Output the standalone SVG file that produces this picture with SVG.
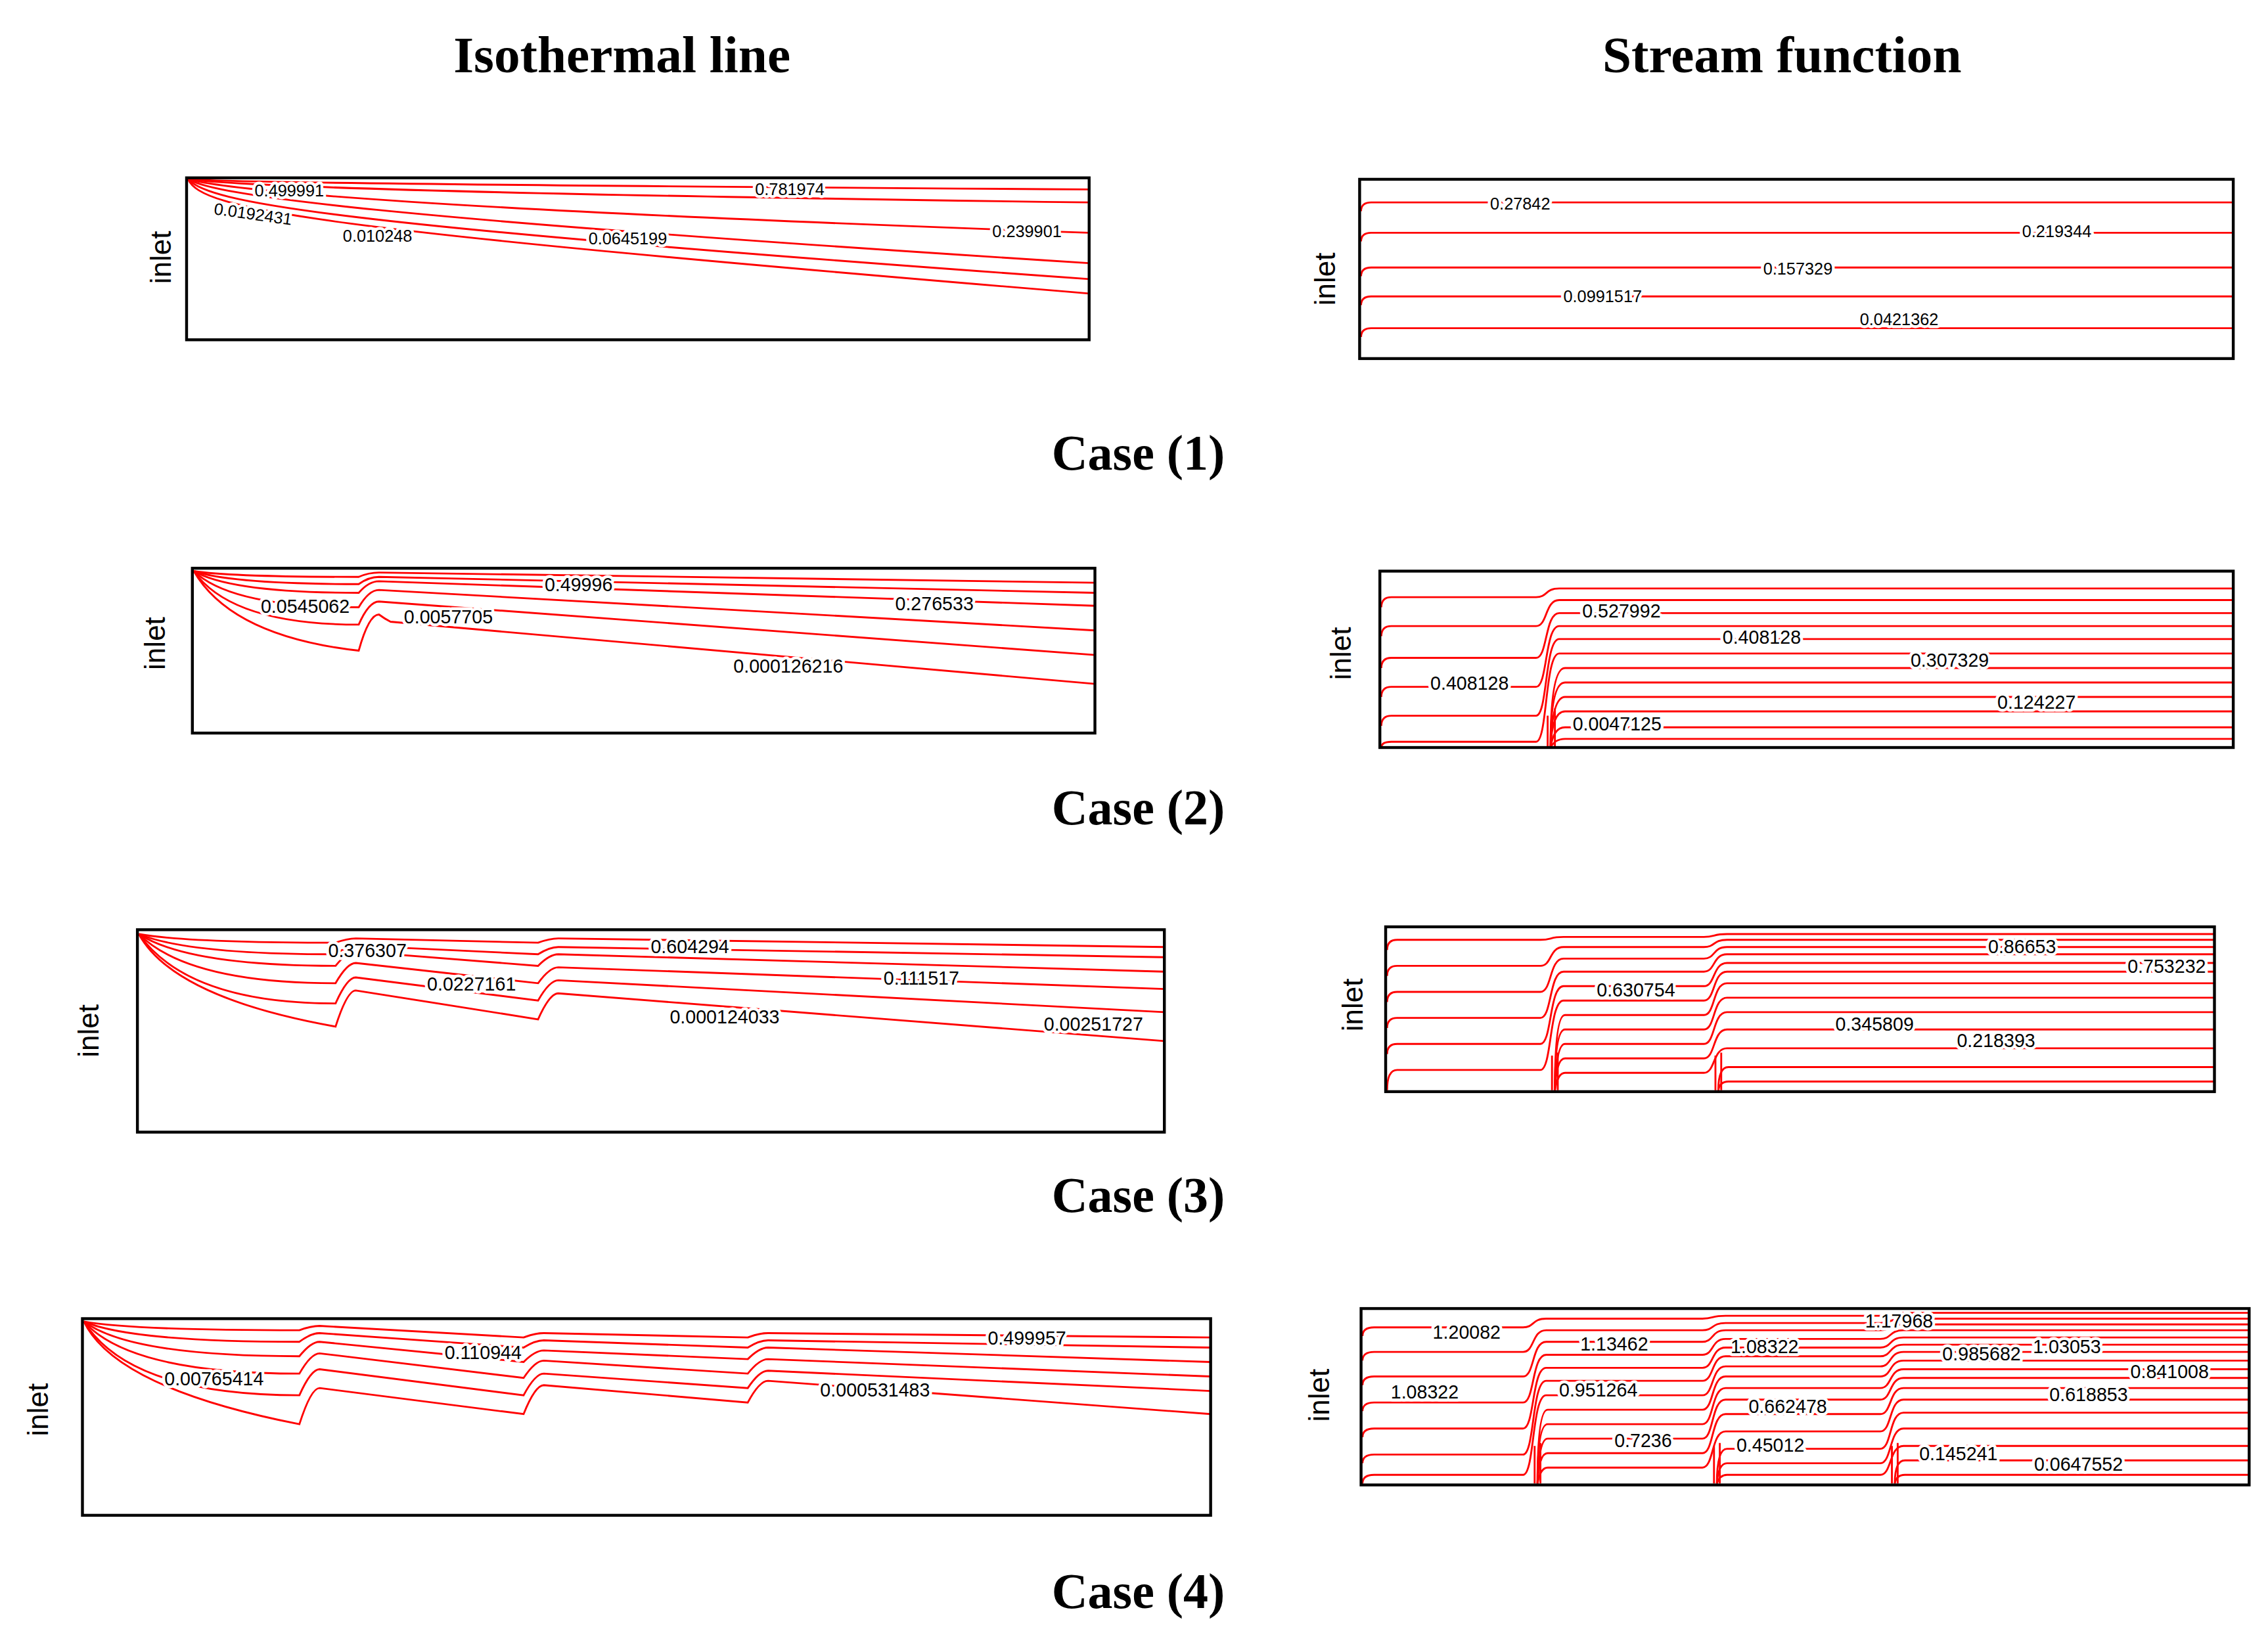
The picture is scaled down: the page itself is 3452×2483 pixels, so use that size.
<svg xmlns="http://www.w3.org/2000/svg" width="3452" height="2483" viewBox="0 0 3452 2483">
<style>
.t{font-family:"Liberation Serif",serif;font-weight:bold;font-size:36px;text-anchor:middle;fill:#000}
.cs{font-size:34.5px}
.in{font-family:"Liberation Sans",Arial,sans-serif;font-size:20px;text-anchor:middle;fill:#000}
.fr{fill:none;stroke:#000;stroke-width:2}
.c path{fill:none;stroke:#f00;stroke-width:1.3}
.lb{font-family:"Liberation Sans",Arial,sans-serif;font-size:13px;text-anchor:middle;fill:#000;stroke:#fff;stroke-width:4;paint-order:stroke;stroke-linejoin:round}
.s{font-size:11.5px}
</style>
<rect width="3452" height="2483" fill="#fff"/>
<g transform="scale(2.2015,2.2012)">
<text class="t" x="430" y="50">Isothermal line</text>
<text class="t" x="1232" y="50">Stream function</text>
<text class="t cs" x="787" y="325">Case (1)</text>
<text class="t cs" x="787" y="570">Case (2)</text>
<text class="t cs" x="787" y="838">Case (3)</text>
<text class="t cs" x="787" y="1112">Case (4)</text>

<g id="p1l">
<g class="c">
<path d="M130,124 C150,126 300,128 753,131"/>
<path d="M130,124 C160,128 300,134 753,140"/>
<path d="M130,124 C160,132 300,145 753,161"/>
<path d="M130,124 C150,135 250,150 753,182"/>
<path d="M130,124 C145,140 220,155 753,193"/>
<path d="M130,124 C140,145 210,158 753,203"/>
</g>
<rect class="fr" x="129" y="123" width="624" height="112"/>
<text class="in" transform="translate(118,178) rotate(-90)">inlet</text>
<text class="lb s" x="200" y="136">0.499991</text>
<text class="lb s" x="175" y="152" transform="rotate(8,175,148)">0.0192431</text>
<text class="lb s" x="261" y="167">0.010248</text>
<text class="lb s" x="434" y="169">0.0645199</text>
<text class="lb s" x="546" y="135">0.781974</text>
<text class="lb s" x="710" y="164">0.239901</text>
</g>

<g id="p1r">
<g class="c">
<path d="M941,146 Q941,140 948,140 H1544"/>
<path d="M941,167 Q941,161 948,161 H1544"/>
<path d="M941,191 Q941,185 948,185 H1544"/>
<path d="M941,211 Q941,205 948,205 H1544"/>
<path d="M941,233 Q941,227 948,227 H1544"/>
</g>
<rect class="fr" x="940" y="124" width="604" height="124"/>
<text class="in" transform="translate(923,193) rotate(-90)">inlet</text>
<text class="lb s" x="1051" y="145">0.27842</text>
<text class="lb s" x="1422" y="164">0.219344</text>
<text class="lb s" x="1243" y="190">0.157329</text>
<text class="lb s" x="1108" y="209">0.0991517</text>
<text class="lb s" x="1313" y="225">0.0421362</text>
</g>

<g id="p2l">
<g class="c">
<path d="M134,395 Q160,399 248,399 Q255,396 262,396 L757,403"/>
<path d="M134,395 Q160,404 248,404 Q255,399 262,399 L757,410"/>
<path d="M134,395 Q160,410 248,410 Q255,402 262,402 L757,419"/>
<path d="M134,395 Q160,420 248,420 Q255,408 262,408 L757,436"/>
<path d="M134,395 Q160,432 248,432 Q255,416 262,416 L757,453"/>
<path d="M134,395 Q160,440 248,450 Q255,425 262,425 Q266,428 270,430 L757,473"/>
</g>
<rect class="fr" x="133" y="393" width="624" height="114"/>
<text class="in" transform="translate(114,445) rotate(-90)">inlet</text>
<text class="lb" x="211" y="424">0.0545062</text>
<text class="lb" x="310" y="431">0.0057705</text>
<text class="lb" x="400" y="409">0.49996</text>
<text class="lb" x="646" y="422">0.276533</text>
<text class="lb" x="545" y="465">0.000126216</text>
</g>

<g id="p2r">
<g class="c">
<path d="M955,420 Q955,413 962,413 H1062 C1070,413 1068,407 1078,407 H1544"/>
<path d="M955,440 Q955,433 962,433 H1062 C1070,433 1068,415 1078,415 H1544"/>
<path d="M955,462 Q955,455 962,455 H1062 C1070,455 1068,424 1078,424 H1544"/>
<path d="M955,482 Q955,475 962,475 H1062 C1070,475 1068,433 1078,433 H1544"/>
<path d="M955,502 Q955,495 962,495 H1062 C1070,495 1068,442 1078,442 H1544"/>
<path d="M955,517 Q955,513 962,513 H1062 C1070,513 1068,452 1078,452 H1544"/>
<path d="M1072,517 Q1072,462 1082,462 H1544"/>
<path d="M1072,517 Q1072,472 1082,472 H1544"/>
<path d="M1072,517 Q1073,482 1082,482 H1544"/>
<path d="M1072,517 Q1073,492 1082,492 H1544"/>
<path d="M1072,517 Q1074,503 1082,503 H1544"/>
<path d="M1072,517 Q1075,511 1082,511 H1544"/>
<path d="M1070,517 V495 M1075,517 V490"/>
</g>
<rect class="fr" x="954" y="395" width="590" height="122"/>
<text class="in" transform="translate(934,452) rotate(-90)">inlet</text>
<text class="lb" x="1121" y="427">0.527992</text>
<text class="lb" x="1218" y="445">0.408128</text>
<text class="lb" x="1348" y="461">0.307329</text>
<text class="lb" x="1016" y="477">0.408128</text>
<text class="lb" x="1408" y="490">0.124227</text>
<text class="lb" x="1118" y="505">0.0047125</text>
</g>

<g id="p3l">
<g class="c">
<path d="M96,646 Q130,652 232,652 Q240,649 246,649 L372,652 Q380,649 386,649 L805,655"/>
<path d="M96,646 Q130,660 232,660 Q240,654 246,654 L372,660 Q380,655 386,655 L805,662"/>
<path d="M96,646 Q130,668 232,668 Q240,658 246,658 L372,668 Q380,660 386,660 L805,672"/>
<path d="M96,646 Q130,680 232,680 Q240,666 246,666 L372,680 Q380,669 386,669 L805,684"/>
<path d="M96,646 Q130,694 232,694 Q240,676 246,676 L372,692 Q380,678 386,678 L805,700"/>
<path d="M96,646 Q120,690 232,710 Q240,685 246,685 L372,705 Q380,687 386,687 L805,720"/>
</g>
<rect class="fr" x="95" y="643" width="710" height="140"/>
<text class="in" transform="translate(68,713) rotate(-90)">inlet</text>
<text class="lb" x="254" y="662">0.376307</text>
<text class="lb" x="477" y="659">0.604294</text>
<text class="lb" x="326" y="685">0.0227161</text>
<text class="lb" x="637" y="681">0.111517</text>
<text class="lb" x="501" y="708">0.000124033</text>
<text class="lb" x="756" y="713">0.00251727</text>
</g>

<g id="p3r">
<g class="c">
<path d="M959,657 Q959,650 966,650 H1065 C1073,650 1071,648 1081,648 H1178 C1186,648 1184,646 1194,646 H1531"/>
<path d="M959,675 Q959,668 966,668 H1065 C1073,668 1071,655 1081,655 H1178 C1186,655 1184,650 1194,650 H1531"/>
<path d="M959,693 Q959,686 966,686 H1065 C1073,686 1071,663 1081,663 H1178 C1186,663 1184,655 1194,655 H1531"/>
<path d="M959,711 Q959,704 966,704 H1065 C1073,704 1071,672 1081,672 H1178 C1186,672 1184,660 1194,660 H1531"/>
<path d="M959,729 Q959,722 966,722 H1065 C1073,722 1071,682 1081,682 H1178 C1186,682 1184,666 1194,666 H1531"/>
<path d="M959,754 Q959,740 966,740 H1065 C1073,740 1071,692 1081,692 H1178 C1186,692 1184,672 1194,672 H1531"/>
<path d="M1075,754 Q1075,702 1082,702 H1178 C1186,702 1184,680 1194,680 H1531"/>
<path d="M1075,754 Q1075,712 1082,712 H1178 C1186,712 1184,690 1194,690 H1531"/>
<path d="M1075,754 Q1076,722 1082,722 H1178 C1186,722 1184,700 1194,700 H1531"/>
<path d="M1075,754 Q1076,732 1082,732 H1178 C1186,732 1184,712 1194,712 H1531"/>
<path d="M1075,754 Q1077,742 1082,742 H1178 C1186,742 1184,725 1194,725 H1531"/>
<path d="M1188,754 Q1188,738 1195,738 H1531"/>
<path d="M1188,754 Q1189,748 1195,748 H1531"/>
<path d="M1073,754 V730 M1077,754 V728 M1186,754 V730 M1190,754 V728"/>
</g>
<rect class="fr" x="958" y="641" width="573" height="114"/>
<text class="in" transform="translate(942,695) rotate(-90)">inlet</text>
<text class="lb" x="1398" y="659">0.86653</text>
<text class="lb" x="1498" y="673">0.753232</text>
<text class="lb" x="1131" y="689">0.630754</text>
<text class="lb" x="1296" y="713">0.345809</text>
<text class="lb" x="1380" y="724">0.218393</text>
</g>

<g id="p4l">
<g class="c">
<path d="M58,914 Q90,920 207,920 Q215,917 221,917 L362,925 Q370,922 376,922 L517,925 Q525,922 531,922 L837,925"/>
<path d="M58,914 Q90,928 207,928 Q215,922 221,922 L362,932 Q370,927 376,927 L517,932 Q525,927 531,927 L837,932"/>
<path d="M58,914 Q90,938 207,938 Q215,928 221,928 L362,942 Q370,934 376,934 L517,940 Q525,932 531,932 L837,942"/>
<path d="M58,914 Q90,950 207,950 Q215,936 221,936 L362,953 Q370,941 376,941 L517,950 Q525,940 531,940 L837,952"/>
<path d="M58,914 Q90,965 207,965 Q215,947 221,947 L362,965 Q370,950 376,950 L517,960 Q525,948 531,948 L837,962"/>
<path d="M58,914 Q80,960 207,985 Q215,960 221,960 L362,978 Q370,958 376,958 L517,970 Q525,955 531,955 L837,978"/>
</g>
<rect class="fr" x="57" y="912" width="780" height="136"/>
<text class="in" transform="translate(33,975) rotate(-90)">inlet</text>
<text class="lb" x="334" y="940">0.110944</text>
<text class="lb" x="710" y="930">0.499957</text>
<text class="lb" x="148" y="958">0.00765414</text>
<text class="lb" x="605" y="966">0.000531483</text>
</g>

<g id="p4r">
<g class="c">
<path d="M942,924 Q942,918 950,918 H1053 C1061,918 1059,912 1069,912 H1177 C1185,912 1183,910 1193,910 H1300 C1308,910 1306,908 1316,908 H1555"/>
<path d="M942,941 Q942,935 950,935 H1053 C1061,935 1059,920 1069,920 H1177 C1185,920 1183,915 1193,915 H1300 C1308,915 1306,912 1316,912 H1555"/>
<path d="M942,958 Q942,952 950,952 H1053 C1061,952 1059,928 1069,928 H1177 C1185,928 1183,920 1193,920 H1300 C1308,920 1306,916 1316,916 H1555"/>
<path d="M942,976 Q942,970 950,970 H1053 C1061,970 1059,937 1069,937 H1177 C1185,937 1183,926 1193,926 H1300 C1308,926 1306,920 1316,920 H1555"/>
<path d="M942,994 Q942,988 950,988 H1053 C1061,988 1059,946 1069,946 H1177 C1185,946 1183,932 1193,932 H1300 C1308,932 1306,925 1316,925 H1555"/>
<path d="M942,1012 Q942,1006 950,1006 H1053 C1061,1006 1059,955 1069,955 H1177 C1185,955 1183,938 1193,938 H1300 C1308,938 1306,930 1316,930 H1555"/>
<path d="M942,1026 Q942,1020 950,1020 H1053 C1061,1020 1059,965 1069,965 H1177 C1185,965 1183,945 1193,945 H1300 C1308,945 1306,935 1316,935 H1555"/>
<path d="M1063,1026 Q1063,975 1070,975 H1177 C1185,975 1183,952 1193,952 H1300 C1308,952 1306,941 1316,941 H1555"/>
<path d="M1063,1026 Q1063,985 1070,985 H1177 C1185,985 1183,960 1193,960 H1300 C1308,960 1306,947 1316,947 H1555"/>
<path d="M1063,1026 Q1064,995 1070,995 H1177 C1185,995 1183,968 1193,968 H1300 C1308,968 1306,953 1316,953 H1555"/>
<path d="M1063,1026 Q1064,1005 1070,1005 H1177 C1185,1005 1183,978 1193,978 H1300 C1308,978 1306,960 1316,960 H1555"/>
<path d="M1063,1026 Q1065,1015 1070,1015 H1177 C1185,1015 1183,990 1193,990 H1300 C1308,990 1306,968 1316,968 H1555"/>
<path d="M1187,1026 Q1187,1002 1194,1002 H1300 C1308,1002 1306,977 1316,977 H1555"/>
<path d="M1187,1026 Q1188,1012 1194,1012 H1300 C1308,1012 1306,988 1316,988 H1555"/>
<path d="M1187,1026 Q1189,1020 1194,1020 H1300 C1308,1020 1306,1000 1316,1000 H1555"/>
<path d="M1310,1026 Q1310,1010 1317,1010 H1555"/>
<path d="M1310,1026 Q1311,1020 1317,1020 H1555"/>
<path d="M1061,1026 V1000 M1065,1026 V998 M1185,1026 V1000 M1189,1026 V998 M1308,1026 V1000 M1312,1026 V998"/>
</g>
<rect class="fr" x="941" y="905" width="614" height="122"/>
<text class="in" transform="translate(919,965) rotate(-90)">inlet</text>
<text class="lb" x="1014" y="926">1.20082</text>
<text class="lb" x="1313" y="918">1.17968</text>
<text class="lb" x="1116" y="934">1.13462</text>
<text class="lb" x="1220" y="936">1.08322</text>
<text class="lb" x="1370" y="941">0.985682</text>
<text class="lb" x="1429" y="936">1.03053</text>
<text class="lb" x="1500" y="953">0.841008</text>
<text class="lb" x="985" y="967">1.08322</text>
<text class="lb" x="1105" y="966">0.951264</text>
<text class="lb" x="1444" y="969">0.618853</text>
<text class="lb" x="1236" y="977">0.662478</text>
<text class="lb" x="1136" y="1001">0.7236</text>
<text class="lb" x="1224" y="1004">0.45012</text>
<text class="lb" x="1354" y="1010">0.145241</text>
<text class="lb" x="1437" y="1017">0.0647552</text>
</g>
</g>
</svg>
